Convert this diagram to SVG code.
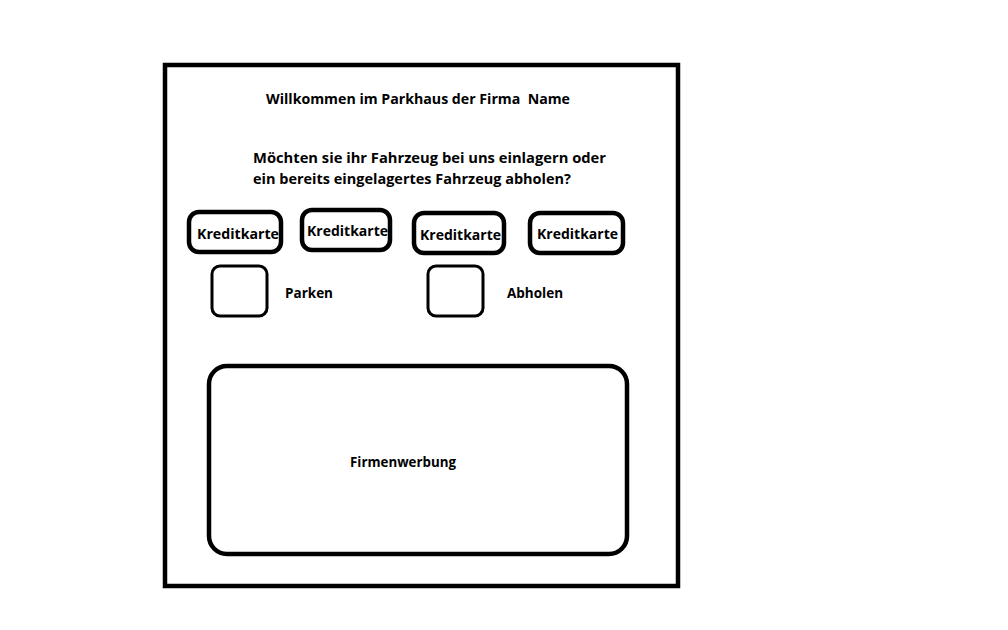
<svg xmlns="http://www.w3.org/2000/svg" width="1008" height="630" viewBox="0 0 1008 630">
<style>
.t{font-family:"Open Sans","DejaVu Sans",sans-serif;font-weight:bold;font-size:14px;fill:#000}
.card{fill:#fff;stroke:#000;stroke-width:4.5}
.chk{fill:#fff;stroke:#000;stroke-width:3}
</style>
<rect width="1008" height="630" fill="#fff"/>
<g id="frame"><rect x="165" y="65" width="513" height="521" fill="#fff" stroke="#000" stroke-width="4.5"/></g>
<g id="title"><text class="t" x="266" y="104" textLength="304" lengthAdjust="spacingAndGlyphs">Willkommen im Parkhaus der Firma&#160; Name</text></g>
<g id="question">
<text class="t" x="253" y="163" textLength="353" lengthAdjust="spacingAndGlyphs">Möchten sie ihr Fahrzeug bei uns einlagern oder</text>
<text class="t" x="253" y="184" textLength="318" lengthAdjust="spacingAndGlyphs">ein bereits eingelagertes Fahrzeug abholen?</text>
</g>
<g id="card1"><rect class="card" x="189" y="212" width="92" height="40" rx="10"/><text class="t" x="197" y="239" textLength="82" lengthAdjust="spacingAndGlyphs">Kreditkarte</text></g>
<g id="card2"><rect class="card" x="302" y="210" width="88" height="40" rx="10"/><text class="t" x="307" y="236" textLength="81" lengthAdjust="spacingAndGlyphs">Kreditkarte</text></g>
<g id="card3"><rect class="card" x="414" y="213" width="90" height="40" rx="10"/><text class="t" x="420" y="240" textLength="81" lengthAdjust="spacingAndGlyphs">Kreditkarte</text></g>
<g id="card4"><rect class="card" x="530" y="213" width="93" height="40" rx="10"/><text class="t" x="537" y="239" textLength="81" lengthAdjust="spacingAndGlyphs">Kreditkarte</text></g>
<g id="parken"><rect class="chk" x="212" y="266" width="55" height="50" rx="8"/><text class="t" x="285" y="298" textLength="48" lengthAdjust="spacingAndGlyphs">Parken</text></g>
<g id="abholen"><rect class="chk" x="428" y="266" width="55" height="50" rx="8"/><text class="t" x="507" y="298" textLength="56" lengthAdjust="spacingAndGlyphs">Abholen</text></g>
<g id="werbung"><rect class="card" x="209" y="366" width="418" height="188" rx="18"/><text class="t" x="350" y="467" textLength="106" lengthAdjust="spacingAndGlyphs">Firmenwerbung</text></g>
<g id="connectors"/>
</svg>
